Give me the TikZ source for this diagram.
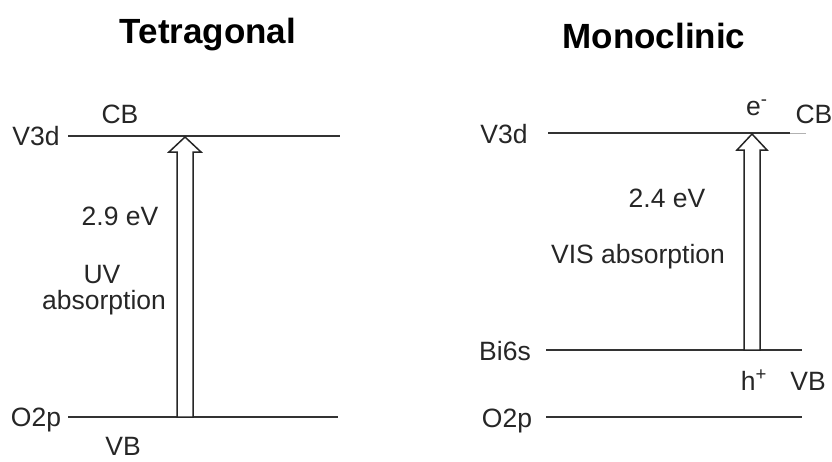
\documentclass[tikz,border=0pt]{standalone}
\usepackage{fontspec}
\setmainfont{Liberation Sans}
\usetikzlibrary{calc}
\tikzset{
  lbl/.style={anchor=base, inner sep=0pt, font=\fontsize{26.5}{30}\selectfont, text=black!85},
  ttl/.style={anchor=base, inner sep=0pt, font=\fontsize{35}{40}\selectfont\bfseries},
  level/.style={line width=1.8pt, draw=black!80},
  blockarrow/.style={line width=1.5pt, draw=black!85, fill=white, line join=miter}
}
\begin{document}
\begin{tikzpicture}[x=1pt,y=-1pt]
\useasboundingbox (0,0) rectangle (832,461);
% ---------------- Tetragonal ----------------
\node[ttl] (t1) at (208,43) {Tetragonal};
\coordinate (lcbL) at (68,136);
\coordinate (lcbR) at (340,136);
\coordinate (lvbL) at (68,417);
\coordinate (lvbR) at (338,417);
\draw[level] (lcbL) -- (lcbR);
\draw[level] (lvbL) -- (lvbR);
\node[lbl] (lv3d) at (36,145) {V3d};
\node[lbl] (lcb) at (120,123) {CB};
\node[lbl] (lo2p) at (36,426) {O2p};
\node[lbl] (lvb) at (123,455) {VB};
\node[lbl] (lev) at (120,225) {2.9 eV};
\node[lbl] (luv) at (102,283) {UV};
\node[lbl] (labs) at (104,309) {absorption};
\coordinate (ltip) at (185,137);
\coordinate (lbase) at (185,417);
\draw[blockarrow] ($(lbase)+(-8,0)$) -- ($(ltip)+(-8,15)$) -- ($(ltip)+(-16,15)$)
  -- (ltip) -- ($(ltip)+(16,15)$) -- ($(ltip)+(8,15)$) -- ($(lbase)+(8,0)$) -- cycle;
% ---------------- Monoclinic ----------------
\node[ttl] (t2) at (654,48) {Monoclinic};
\coordinate (rcbL) at (548,133);
\coordinate (rcbR) at (790,133);
\coordinate (rcbX) at (806,133);
\coordinate (rbiL) at (546,350);
\coordinate (rbiR) at (802,350);
\coordinate (ro2L) at (546,417);
\coordinate (ro2R) at (802,417);
\draw[level] (rcbL) -- (rcbR);
\draw[line width=0.8pt, draw=black!30] (rcbR) -- (rcbX);
\draw[level] (rbiL) -- (rbiR);
\draw[level] (ro2L) -- (ro2R);
\node[lbl] (rv3d) at (504,143) {V3d};
\node[lbl] (rcb) at (814,123) {CB};
\node[lbl, anchor=base west] (re) at (746,115) {e\textsuperscript{-}};
\node[lbl] (rev) at (667,207) {2.4 eV};
\node[lbl] (rvis) at (638,263) {VIS absorption};
\node[lbl] (rbi) at (505,360) {Bi6s};
\node[lbl] (rh) at (754,390) {h\textsuperscript{+}};
\node[lbl] (rvb) at (808,390) {VB};
\node[lbl] (ro2p) at (507,427) {O2p};
\coordinate (rtip) at (752,134);
\coordinate (rbase) at (752,350);
\draw[blockarrow] ($(rbase)+(-8,0)$) -- ($(rtip)+(-8,16)$) -- ($(rtip)+(-15,16)$)
  -- (rtip) -- ($(rtip)+(15,16)$) -- ($(rtip)+(8,16)$) -- ($(rbase)+(8,0)$) -- cycle;
\end{tikzpicture}
\end{document}
